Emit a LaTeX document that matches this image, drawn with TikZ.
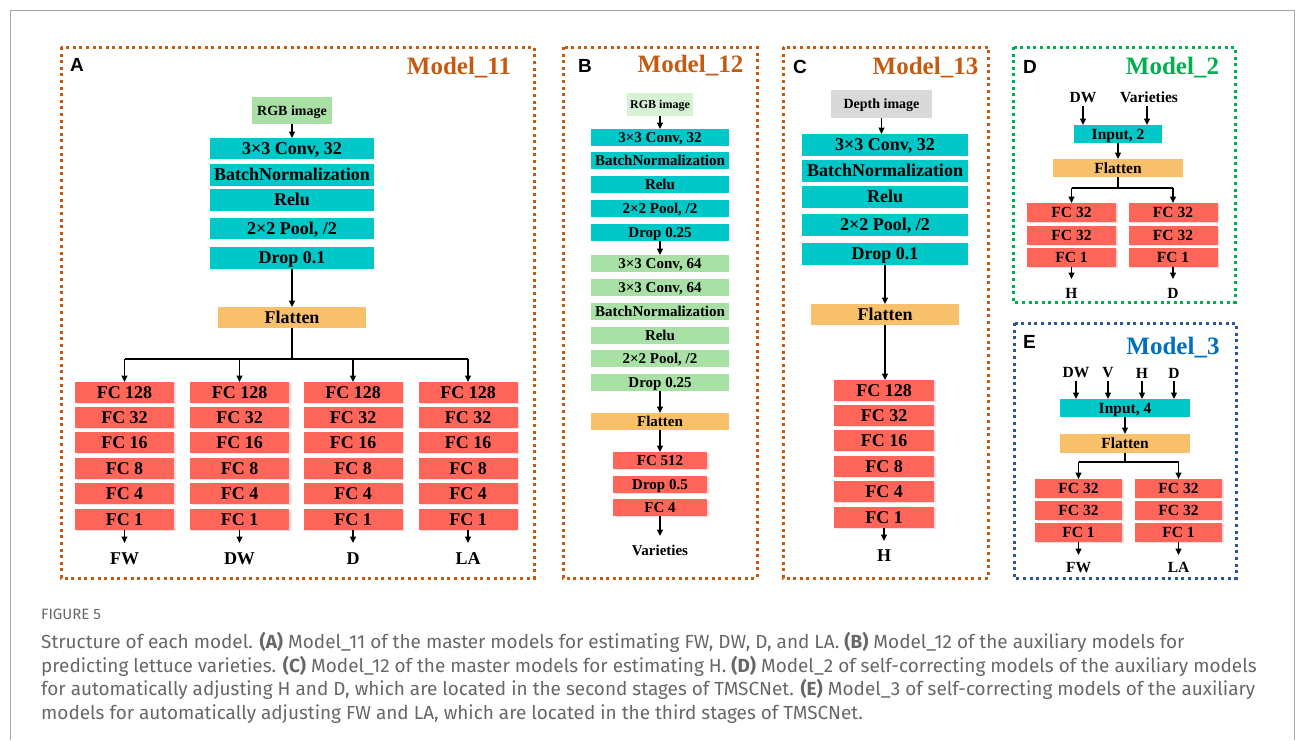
\documentclass[tikz,border=0pt]{standalone}
\usepackage{fontspec}
\setmainfont{Liberation Serif}
\newfontfamily\panelfont{Liberation Sans}
\newfontfamily\capfont{Fira Sans}
\usetikzlibrary{arrows.meta,shadows}

\definecolor{cyanbox}{HTML}{00C8C8}
\definecolor{flatbox}{HTML}{F9C06B}
\definecolor{fcbox}{HTML}{FF6659}
\definecolor{fcshade}{HTML}{FFDADD}
\definecolor{greenbox}{HTML}{A9E0A5}
\definecolor{palegreen}{HTML}{D6F1D3}
\definecolor{greybox}{HTML}{D9D9D9}
\definecolor{orangeline}{HTML}{C55A11}
\definecolor{greenline}{HTML}{00B050}
\definecolor{blueline}{HTML}{2E5597}
\definecolor{bluetext}{HTML}{0070C0}
\definecolor{captext}{HTML}{676767}
\definecolor{framegrey}{HTML}{A6A6A6}

\newcommand{\fsz}[1]{\fontsize{#1}{#1}\selectfont}

\tikzset{
  blk/.style={inner sep=0pt, outer sep=0pt, text depth=0pt},
  cy/.style={blk, fill=cyanbox},
  fl/.style={blk, fill=flatbox},
  gr/.style={blk, fill=greenbox},
  fc/.style={blk, fill=fcbox, general shadow={fill=fcshade, shadow xshift=1.8pt, shadow yshift=-1pt}},
  fA/.style={font=\fsz{18}\bfseries, text height=11.9pt},
  fB/.style={font=\fsz{15}\bfseries, text height=9.9pt},
  fD/.style={font=\fsz{15.5}\bfseries, text height=10.2pt},
  f14/.style={font=\fsz{14}\bfseries, text height=9.3pt},
  f12/.style={font=\fsz{12}\bfseries, text height=7.9pt},
  outlab/.style={inner sep=0pt, outer sep=0pt},
  arr/.style={-{Triangle[length=6.5pt,width=6pt]}, line width=1.3pt},
  wire/.style={line width=1.3pt},
  dotframe/.style={line width=3pt, dash pattern=on 3pt off 3.6pt},
  plab/.style={inner sep=0pt, anchor=north west, font=\panelfont\fsz{19}\bfseries},
  mlab/.style={inner sep=0pt, anchor=base, font=\fsz{25}\bfseries},
  capline/.style={inner sep=0pt, anchor=base west, font=\capfont\fsz{18.95}, text=captext},
}

\begin{document}
\begin{tikzpicture}[x=1pt, y=-1pt]
\useasboundingbox (0,0) rectangle (1295,740);

% page frame
\draw[framegrey, line width=1pt] (10,740) -- (10,10) -- (1294,10) -- (1294,740);

% ---------------- Panel A: Model_11 ----------------
\draw[dotframe, orangeline] (61,47) rectangle (534,578);
\node[plab] (labA) at (70,58) {A};
\node[mlab, text=orangeline] (mA) at (459,74) {Model\_11};

\node[gr, f14, minimum width=80pt, minimum height=27pt] (ain) at (292,110.5) {RGB image};
\node[cy, fA, minimum width=164pt, minimum height=21pt] (a1) at (292,148.5) {3×3 Conv, 32};
\node[cy, fA, minimum width=164pt, minimum height=22pt] (a2) at (292,175) {BatchNormalization};
\node[cy, fA, minimum width=164pt, minimum height=22pt] (a3) at (292,200) {Relu};
\node[cy, fA, minimum width=164pt, minimum height=21pt] (a4) at (292,228.5) {2×2 Pool, /2};
\node[cy, fA, minimum width=164pt, minimum height=22pt] (a5) at (292,258) {Drop 0.1};
\node[fl, fA, minimum width=148pt, minimum height=21pt] (afl) at (292,317.5) {Flatten};
\draw[arr] (ain.south) -- (a1.north);
\draw[arr] (a5.south) -- (afl.north);

\coordinate (abr) at (292,359);
\foreach \c/\x/\out in {1/124.5/FW, 2/239.5/DW, 3/353/D, 4/468/LA} {
  \foreach \r/\y/\t in {1/392.5/FC 128, 2/417.5/FC 32, 3/442.5/FC 16, 4/468.5/FC 8, 5/493.5/FC 4, 6/519.5/FC 1} {
    \node[fc, fA, minimum width=99pt, minimum height=21pt] (a\c\r) at (\x,\y) {\t};
  }
  \node[outlab, fA, anchor=north] (ao\c) at (\x,553) {\out};
  \draw[arr, shorten >=10pt] (a\c6.south) -- (ao\c.north);
}
\draw[wire] (afl.south) -- (abr);
\draw[wire] (a11.north |- abr) -- (a41.north |- abr);
\foreach \c in {1,2,3,4} { \draw[arr] (a\c1.north |- abr) -- (a\c1.north); }

% ---------------- Panel B: Model_12 ----------------
\draw[dotframe, orangeline] (563,47) rectangle (757,578);
\node[plab] (labB) at (578,59) {B};
\node[mlab, text=orangeline] (mB) at (690.5,72.5) {Model\_12};

\node[blk, fill=palegreen, f12, minimum width=66pt, minimum height=23pt] (bin) at (660,104.5) {RGB image};
\foreach \n/\y/\t in {1/137.5/{3×3 Conv, 32}, 2/160.5/BatchNormalization, 3/184.5/Relu, 4/208.5/{2×2 Pool, /2}, 5/232.5/Drop 0.25} {
  \node[cy, fB, minimum width=138pt, minimum height=17pt] (b\n) at (660,\y) {\t};
}
\foreach \n/\y/\t in {6/263.5/{3×3 Conv, 64}, 7/287.5/{3×3 Conv, 64}, 8/311.5/BatchNormalization, 9/335.5/Relu, 10/358.5/{2×2 Pool, /2}, 11/382.5/Drop 0.25} {
  \node[gr, fB, minimum width=138pt, minimum height=17pt] (b\n) at (660,\y) {\t};
}
\node[fl, fB, minimum width=138pt, minimum height=17pt] (bfl) at (660,421.5) {Flatten};
\node[fc, fB, minimum width=94pt, minimum height=17pt] (b12) at (660,460.5) {FC 512};
\node[fc, fB, minimum width=94pt, minimum height=17pt] (b13) at (660,484.5) {Drop 0.5};
\node[fc, fB, minimum width=94pt, minimum height=17pt] (b14) at (660,507.5) {FC 4};
\node[outlab, fB, anchor=north] (bout) at (660,546) {Varieties};
\draw[arr] (bin.south) -- (b1.north);
\draw[arr] (b5.south) -- (b6.north);
\draw[arr] (b11.south) -- (bfl.north);
\draw[arr] (bfl.south) -- (b12.north);
\draw[arr, shorten >=10pt] (b14.south) -- (bout.north);

% ---------------- Panel C: Model_13 ----------------
\draw[dotframe, orangeline] (783,47) rectangle (988,578);
\node[plab] (labC) at (793,60) {C};
\node[mlab, text=orangeline] (mC) at (925.5,74) {Model\_13};

\node[blk, fill=greybox, f14, minimum width=101pt, minimum height=28pt] (cin) at (881.5,104) {Depth image};
\node[cy, fA, minimum width=166pt, minimum height=22pt] (c1) at (885,145) {3×3 Conv, 32};
\node[cy, fA, minimum width=166pt, minimum height=22pt] (c2) at (885,171) {BatchNormalization};
\node[cy, fA, minimum width=166pt, minimum height=22pt] (c3) at (885,197) {Relu};
\node[cy, fA, minimum width=166pt, minimum height=22pt] (c4) at (885,225) {2×2 Pool, /2};
\node[cy, fA, minimum width=166pt, minimum height=22pt] (c5) at (885,254) {Drop 0.1};
\node[fl, fA, minimum width=148pt, minimum height=21pt] (cfl) at (885,314.5) {Flatten};
\foreach \r/\y/\t in {1/390.5/FC 128, 2/415.5/FC 32, 3/440.5/FC 16, 4/466.5/FC 8, 5/491.5/FC 4, 6/517.5/FC 1} {
  \node[fc, fA, minimum width=100pt, minimum height=21pt] (c1\r) at (884,\y) {\t};
}
\node[outlab, fA, anchor=north] (cout) at (884,550) {H};
\draw[arr] (cin.south) -- (cin.south |- c1.north);
\draw[arr] (c5.south -| cfl) -- (cfl.north);
\draw[arr] (cfl.south) -- (cfl.south |- c11.north);
\draw[arr, shorten >=9pt] (c16.south) -- (cout.north);

% ---------------- Panel D: Model_2 ----------------
\draw[dotframe, greenline] (1013,47) rectangle (1235,302);
\node[plab] (labD) at (1023,60) {D};
\node[mlab, text=greenline] (mD) at (1172.5,74.5) {Model\_2};

\node[outlab, fD] (dinl) at (1083,98) {DW};
\node[outlab, fD] (dinr) at (1149,98) {Varieties};
\node[cy, fD, minimum width=88pt, minimum height=18pt] (din) at (1118,134) {Input, 2};
\node[fl, fD, minimum width=130pt, minimum height=18pt] (dfl) at (1118,168) {Flatten};
\draw[arr, shorten <=3pt] (dinl.south) -- (dinl.south |- din.north);
\draw[arr, shorten <=3pt] ([xshift=-2pt]dinr.south) -- ([xshift=-2pt]dinr.south |- din.north);
\draw[arr] (din.south) -- (dfl.north);
\coordinate (dbr) at (1118,188);
\foreach \c/\x/\out in {1/1071.5/H, 2/1173/D} {
  \foreach \r/\y/\t in {1/212.5/FC 32, 2/235/FC 32, 3/257.5/FC 1} {
    \node[fc, fD, minimum width=89pt, minimum height=19pt] (d\c\r) at (\x,\y) {\t};
  }
  \node[outlab, fD, anchor=north] (do\c) at (\x,288) {\out};
  \draw[arr, shorten >=9pt] (d\c3.south) -- (do\c.north);
  \draw[arr] (d\c1.north |- dbr) -- (d\c1.north);
}
\draw[wire] (dfl.south) -- (dbr);
\draw[wire] (d11.north |- dbr) -- (d21.north |- dbr);

% ---------------- Panel E: Model_3 ----------------
\draw[dotframe, blueline] (1014,323) rectangle (1236,578);
\node[plab] (labE) at (1023,335) {E};
\node[mlab, text=bluetext] (mE) at (1173,354.5) {Model\_3};

\foreach \n/\x/\t in {1/1076/DW, 2/1108/V, 3/1142/H, 4/1174/D} {
  \node[outlab, fD] (ein\n) at (\x,373) {\t};
}
\node[cy, fD, minimum width=130pt, minimum height=18pt] (ein) at (1125,408) {Input, 4};
\node[fl, fD, minimum width=130pt, minimum height=19pt] (efl) at (1125,443.5) {Flatten};
\foreach \n in {1,2,3,4} { \draw[arr, shorten <=3pt] (ein\n.south) -- (ein\n.south |- ein.north); }
\draw[arr] (ein.south) -- (efl.north);
\coordinate (ebr) at (1125,462);
\foreach \c/\x/\out in {1/1078.5/FW, 2/1178.5/LA} {
  \foreach \r/\y/\t in {1/488.5/FC 32, 2/510.5/FC 32, 3/532.5/FC 1} {
    \node[fc, fD, minimum width=87pt, minimum height=19pt] (e\c\r) at (\x,\y) {\t};
  }
  \node[outlab, fD, anchor=north] (eo\c) at (\x,562) {\out};
  \draw[arr, shorten >=7pt] (e\c3.south) -- (eo\c.north);
  \draw[arr] (e\c1.north |- ebr) -- (e\c1.north);
}
\draw[wire] (efl.south) -- (ebr);
\draw[wire] (e11.north |- ebr) -- (e21.north |- ebr);

% ---------------- Caption ----------------
\node[capline, font=\capfont\fsz{15}] (figno) at (41,619) {FIGURE 5};
\node[capline] (cap1) at (41,648) {Structure of each model. \textbf{(A)} Model\_11 of the master models for estimating FW, DW, D, and LA. \textbf{(B)} Model\_12 of the auxiliary models for};
\node[capline] (cap2) at (41,672) {predicting lettuce varieties. \textbf{(C)} Model\_12 of the master models for estimating H. \textbf{(D)} Model\_2 of self-correcting models of the auxiliary models};
\node[capline] (cap3) at (41,695.5) {for automatically adjusting H and D, which are located in the second stages of TMSCNet. \textbf{(E)} Model\_3 of self-correcting models of the auxiliary};
\node[capline] (cap4) at (41,719) {models for automatically adjusting FW and LA, which are located in the third stages of TMSCNet.};
\end{tikzpicture}
\end{document}
